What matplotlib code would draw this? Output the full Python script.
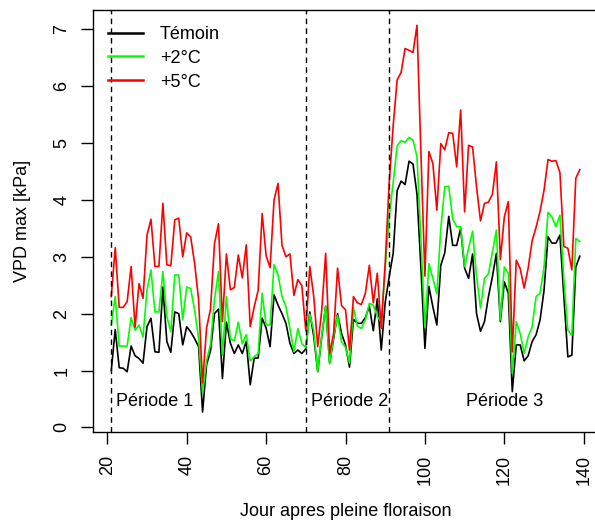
import matplotlib
matplotlib.use("Agg")
import matplotlib.pyplot as plt

plt.rcParams['font.family'] = ['Liberation Sans', 'DejaVu Sans']

# day after full bloom (21 -> 139)
days = list(range(21, 140))

temoin = [1.0, 1.72, 1.05, 1.04, 0.98, 1.43, 1.26, 1.21, 1.13, 1.77,
          1.92, 1.33, 1.32, 2.47, 1.51, 1.32, 2.03, 2.0, 1.45, 1.77,
          1.68, 1.56, 1.42, 0.27, 1.1, 1.35, 2.0, 2.08, 0.86, 1.85,
          1.48, 1.3, 1.45, 1.3, 1.51, 0.75, 1.22, 1.22, 1.92, 1.75,
          1.42, 2.33, 2.15, 2.0, 1.83, 1.48, 1.3, 1.36, 1.3, 1.38,
          2.03, 1.6, 0.98, 1.59, 2.13, 1.13, 1.56, 2.0, 1.65, 1.45,
          1.06, 1.9, 1.83, 1.83, 1.93, 2.13, 1.7, 2.26, 1.36, 2.2,
          2.65, 3.06, 4.16, 4.33, 4.27, 4.68, 4.63, 4.1, 2.8, 1.39,
          2.48, 2.12, 1.8, 2.85, 3.07, 3.71, 3.2, 3.2, 3.5, 2.8,
          2.62, 3.05, 2.0, 1.69, 1.86, 2.3, 2.65, 3.06, 1.86, 2.56,
          2.36, 0.63, 1.45, 1.45, 1.17, 1.26, 1.51, 1.63, 1.89, 2.41,
          3.35, 3.24, 3.24, 3.38, 2.3, 1.24, 1.27, 2.82, 3.01]

plus2 = [1.8, 2.30, 1.43, 1.43, 1.43, 1.93, 1.71, 1.80, 1.59, 2.41,
         2.77, 2.03, 2.03, 2.74, 1.95, 1.68, 2.68, 2.68, 1.89, 2.47,
         2.44, 2.06, 1.56, 0.6, 1.18, 1.46, 2.25, 2.74, 1.27, 2.3,
         1.56, 1.52, 1.85, 1.47, 1.63, 1.17, 1.24, 1.3, 2.36, 1.8,
         1.8, 2.86, 2.68, 2.3, 2.12, 1.74, 1.33, 1.74, 1.47, 1.41,
         1.99, 1.7, 0.98, 1.6, 2.13, 1.12, 1.6, 1.97, 1.5, 1.41,
         1.13, 2.1, 1.78, 1.74, 1.89, 2.18, 2.15, 1.95, 1.85, 2.8,
         3.7, 4.3, 4.95, 5.04, 5.01, 5.1, 5.05, 4.76, 3.3, 1.76,
         2.88, 2.62, 2.35, 3.5, 4.23, 4.24, 3.66, 3.53, 3.53, 2.83,
         3.15, 3.45, 2.65, 2.1, 2.62, 2.7, 3.08, 3.47, 1.89, 2.82,
         2.71, 0.95, 1.86, 1.65, 1.3, 1.59, 1.77, 2.3, 2.36, 2.82,
         3.78, 3.70, 3.53, 3.73, 2.59, 1.71, 1.62, 3.32, 3.27]

plus5 = [2.3, 3.16, 2.11, 2.11, 2.21, 2.83, 1.76, 2.53, 2.27, 3.38,
         3.66, 2.83, 2.83, 3.94, 2.86, 2.84, 3.65, 3.68, 3.0, 3.42,
         3.35, 2.88, 2.24, 0.78, 1.75, 2.08, 3.23, 3.58, 1.86, 3.05,
         2.42, 2.46, 3.03, 2.63, 3.21, 1.77, 2.12, 2.41, 3.76, 3.02,
         2.81, 4.0, 4.29, 3.2, 3.0, 3.05, 2.32, 2.6, 2.49, 1.7,
         2.83, 2.3, 1.42, 2.05, 3.06, 1.3, 1.65, 2.80, 2.14, 2.07,
         1.36, 2.30, 2.19, 2.16, 2.36, 2.85, 2.19, 2.71, 1.74, 2.9,
         4.3, 5.3, 6.11, 6.24, 6.66, 6.63, 6.59, 7.07, 4.8, 2.66,
         4.85, 4.64, 3.82, 4.99, 4.88, 5.18, 5.17, 4.58, 5.58, 3.79,
         4.96, 4.93, 4.23, 3.63, 3.94, 3.96, 4.1, 4.67, 2.95, 3.70,
         3.97, 1.33, 2.94, 2.79, 2.45, 2.8, 3.28, 3.52, 3.8, 4.17,
         4.71, 4.68, 4.69, 4.48, 3.18, 3.15, 2.77, 4.38, 4.53]

period_bounds = [21, 70, 91]
period_names = ['Période 1', 'Période 2', 'Période 3']
period_centres = [32, 81, 120]

fig = plt.figure(figsize=(5.95, 5.21), dpi=100)
ax = fig.add_axes([0.1555, 0.170, 0.8504, 0.811])

ax.plot(days, temoin, color='black', lw=1.2, label='Témoin')
ax.plot(days, plus2, color='#00ff00', lw=1.2, label='+2°C')
ax.plot(days, plus5, color='#ff0000', lw=1.2, label='+5°C')

for b in period_bounds:
    ax.axvline(b, color='black', lw=1, ls=(0, (4, 3)))
for name, c in zip(period_names, period_centres):
    ax.text(c, 0.45, name, ha='center', va='center', fontsize=13)

ax.set_xlim(16.28, 143.72)
ax.set_ylim(-0.088, 7.34)
ax.set_xticks(range(20, 141, 20))
ax.set_yticks(range(0, 8))
ax.tick_params(direction='out', length=8.5, width=1, labelsize=13, pad=7.5)
ax.tick_params(axis='x', labelrotation=90)
ax.tick_params(axis='y', labelrotation=90)
for lab in ax.get_yticklabels():
    lab.set_va('center')
for sp in ax.spines.values():
    sp.set_linewidth(1)

ax.set_xlabel('Jour apres pleine floraison', fontsize=13, labelpad=13)
ax.set_ylabel('VPD max [kPa]', fontsize=13, labelpad=16)

leg = ax.legend(loc='upper left', bbox_to_anchor=(0.03, 0.962), frameon=False,
                fontsize=13, handlelength=1.95, handletextpad=0.95,
                labelspacing=0.38, borderaxespad=0, borderpad=0)
for h in leg.get_lines():
    h.set_linewidth(1.8)

fig.savefig('out.png', dpi=100)
